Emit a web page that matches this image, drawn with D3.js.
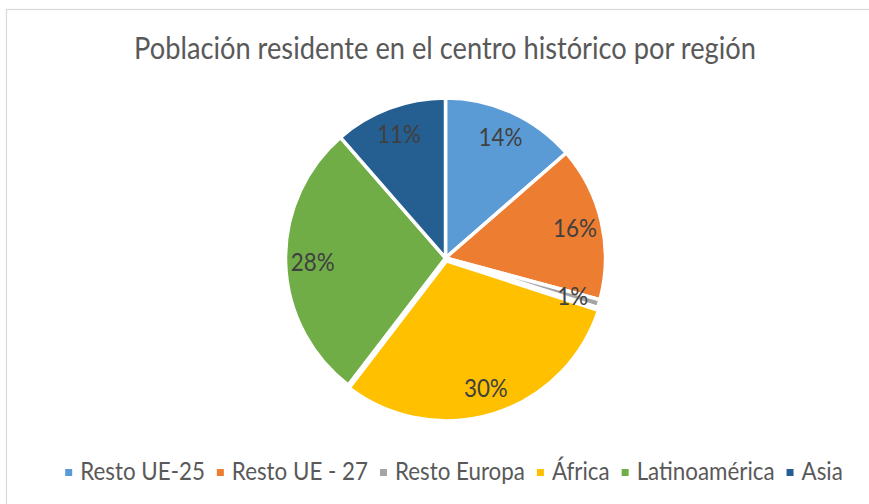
<!DOCTYPE html>
<html>
<head>
<meta charset="utf-8">
<script src="https://cdn.jsdelivr.net/npm/d3@7"></script>
<style>
  body { margin: 0; background: #fff; }
  svg { display: block; }
</style>
</head>
<body>
<svg id="pieChart" width="869" height="504"></svg>
<script>
// Data (shares in %)
const regions = ["Resto UE-25", "Resto UE - 27", "Resto Europa", "África", "Latinoamérica", "Asia"];
const shares = [13.6, 15.6, 0.8, 30.4, 28.2, 11.4];
const colors = ["#5B9BD5", "#ED7D31", "#A5A5A5", "#FFC000", "#70AD47", "#255E91"];
const exploded = ["África"];
const title = "Población residente en el centro histórico por región";

const data = regions.map((r, i) => ({ region: r, value: shares[i], color: colors[i] }));

const svg = d3.select("#pieChart");
const fontFamily = "Lato, 'Open Sans', sans-serif";
// Calibri-like: a bit taller than Lato at the same width, so squeeze horizontally
const squeeze = 0.9;

// chart area border
svg.append("rect")
  .attr("x", 6.5).attr("y", 9.5)
  .attr("width", 900).attr("height", 600)
  .attr("fill", "#fff")
  .attr("stroke", "#d9d9d9")
  .attr("stroke-width", 1.2);

// Title: size chosen so squeezed text spans the reference width
const titleG = svg.append("g").attr("transform", `translate(445,58.5) scale(${squeeze},1)`);
const titleText = titleG.append("text")
  .attr("text-anchor", "middle")
  .attr("font-family", fontFamily)
  .attr("fill", "#595959")
  .attr("font-size", 100)
  .text(title);
const titleW = titleText.node().getComputedTextLength();
titleText.attr("font-size", 100 * 622 / (titleW * squeeze));

// Pie layout
const cx = 445.5, cy = 258, radius = 160;
const pie = d3.pie().value(d => d.value).sort(null);
const arc = d3.arc().innerRadius(0).outerRadius(radius);
const labelArc = d3.arc().innerRadius(radius * 0.83).outerRadius(radius * 0.83);
const explode = 3;

const g = svg.append("g").attr("transform", `translate(${cx},${cy})`);
const arcs = pie(data);

function offset(d) {
  if (!exploded.includes(d.data.region)) return [0, 0];
  const a = (d.startAngle + d.endAngle) / 2;
  return [Math.sin(a) * explode, -Math.cos(a) * explode];
}

g.selectAll("path.slice")
  .data(arcs)
  .enter().append("path")
    .attr("class", "slice")
    .attr("d", arc)
    .attr("transform", d => `translate(${offset(d)})`)
    .attr("fill", d => d.data.color)
    .attr("stroke", "#fff")
    .attr("stroke-width", 3.5)
    .attr("stroke-linejoin", "round");

// Legend
const legend = svg.append("g");
const items = legend.selectAll("g.item")
  .data(data)
  .enter().append("g").attr("class", "item");

items.append("rect")
  .attr("width", 7).attr("height", 7)
  .attr("fill", d => d.color);

const legendTexts = items.append("text")
  .attr("font-family", fontFamily)
  .attr("fill", "#595959")
  .text(d => d.region);

const sqW = 7, sqGap = 8, itemGap = 12;
function layoutLegend(fs) {
  legendTexts.attr("font-size", fs);
  let x = 0;
  const pos = [];
  legendTexts.each(function() {
    const w = this.getComputedTextLength() * squeeze;
    pos.push(x);
    x += sqW + sqGap + w + itemGap;
  });
  return { pos, total: x - itemGap };
}
let lay = layoutLegend(100);
const fixed = data.length * (sqW + sqGap) + (data.length - 1) * itemGap;
const legendFs = 100 * (778 - fixed) / (lay.total - fixed);
lay = layoutLegend(legendFs);
const legendX = 454 - lay.total / 2;
const legendY = 480;
items.attr("transform", (d, i) => `translate(${legendX + lay.pos[i]},${legendY})`);
items.select("rect").attr("x", 0).attr("y", -11);
legendTexts.attr("transform", `translate(${sqW + sqGap},0) scale(${squeeze},1)`);

// Data labels
g.selectAll("text.label")
  .data(arcs)
  .enter().append("text")
    .attr("class", "label")
    .attr("transform", d => {
      const [x, y] = labelArc.centroid(d);
      const [ox, oy] = offset(d);
      return `translate(${x + ox},${y + oy}) scale(${squeeze},1)`;
    })
    .attr("dy", "0.36em")
    .attr("text-anchor", "middle")
    .attr("font-family", fontFamily)
    .attr("font-size", legendFs)
    .attr("fill", "#404040")
    .text(d => Math.round(d.data.value) + "%");
</script>
</body>
</html>
